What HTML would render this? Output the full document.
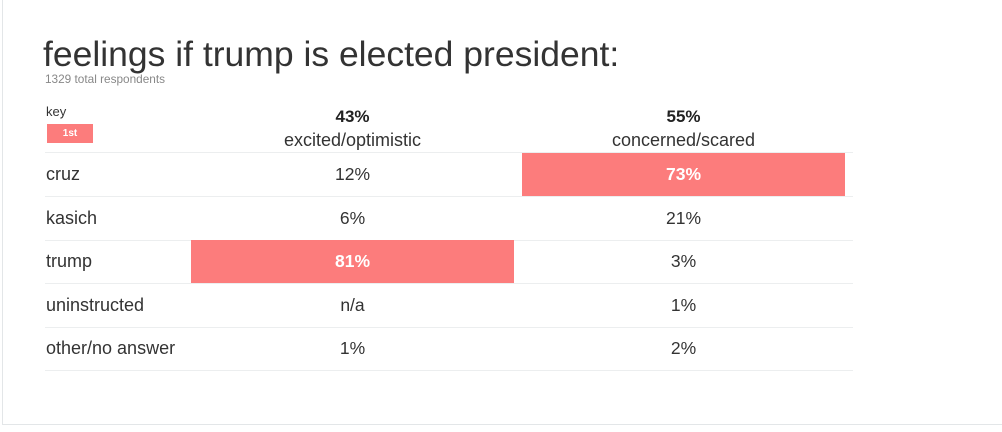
<!DOCTYPE html>
<html><head><meta charset="utf-8"><style>
body{margin:0;width:1002px;height:432px;background:#fff;font-family:"Liberation Sans",sans-serif;position:relative;overflow:hidden;color:#333}
.card{position:absolute;left:2px;top:-2px;width:1004px;height:427px;border:1px solid #e3e6e8;box-sizing:border-box}
.abs{position:absolute}
.t{position:absolute;white-space:nowrap}
.line{position:absolute;left:45px;width:808px;height:1px;background:#eceeef}
.cell{position:absolute;height:43px;display:flex;align-items:center;justify-content:center;font-size:17.5px;color:#333}
.hl{background:#fc7c7c;color:#fff;font-weight:bold}
.lab{position:absolute;left:46px;height:43px;display:flex;align-items:center;font-size:18px;color:#333}
</style></head><body>
<div class="card"></div>
<div class="t" style="left:43px;top:34px;font-size:35.5px;color:#333">feelings if trump is elected president:</div>
<div class="t" style="left:45px;top:72px;font-size:11.8px;color:#888">1329 total respondents</div>
<div class="t" style="left:46px;top:104px;font-size:13px;color:#333">key</div>
<div class="abs" style="left:47px;top:124px;width:46px;height:19px;background:#fc7c7c;color:#fff;font-size:10px;font-weight:bold;text-align:center;line-height:19px">1st</div>
<div id="grid"></div>
<script>
const categories=["cruz","kasich","trump","uninstructed","other/no answer"];
const columns=["excited/optimistic","concerned/scared"];
const columnTotals=["43%","55%"];
const excitedValues=["12%","6%","81%","n/a","1%"];
const concernedValues=["73%","21%","3%","1%","2%"];
const series=[excitedValues,concernedValues];
const colX=[191,522],colW=323,rowTop=153,rowH=43.5;
const g=document.getElementById('grid');
function num(v){const n=parseFloat(v);return isNaN(n)?-1:n;}
columns.forEach((c,i)=>{
  const p=document.createElement('div');p.className='t';
  
  
  p.style.cssText=`left:${colX[i]}px;width:${colW}px;text-align:center;top:107px;font-size:17px;font-weight:bold;color:#222`;
  p.textContent=columnTotals[i];g.appendChild(p);
  const h=document.createElement('div');h.className='t';
  
  
  h.style.cssText=`left:${colX[i]}px;width:${colW}px;text-align:center;top:130px;font-size:18px;color:#333`;
  h.textContent=c;g.appendChild(h);
});
function line(y){const l=document.createElement('div');l.className='line';l.style.top=y+'px';
  
  
  g.appendChild(l);}
line(152);
categories.forEach((cat,r)=>{
  const y=rowTop+r*rowH;
  const lb=document.createElement('div');lb.className='lab';lb.style.top=y+'px';lb.textContent=cat;
  
  
  g.appendChild(lb);
  series.forEach((s,c)=>{
    const max=Math.max(...series[c].map(num));
    const d=document.createElement('div');d.className='cell'+(num(s[r])===max?' hl':'');
    d.style.left=colX[c]+'px';d.style.width=colW+'px';d.style.top=y+'px';d.textContent=s[r];
    
    
    g.appendChild(d);
  });
  line(Math.round(y+rowH-0.5));
});
</script>
</body></html>
